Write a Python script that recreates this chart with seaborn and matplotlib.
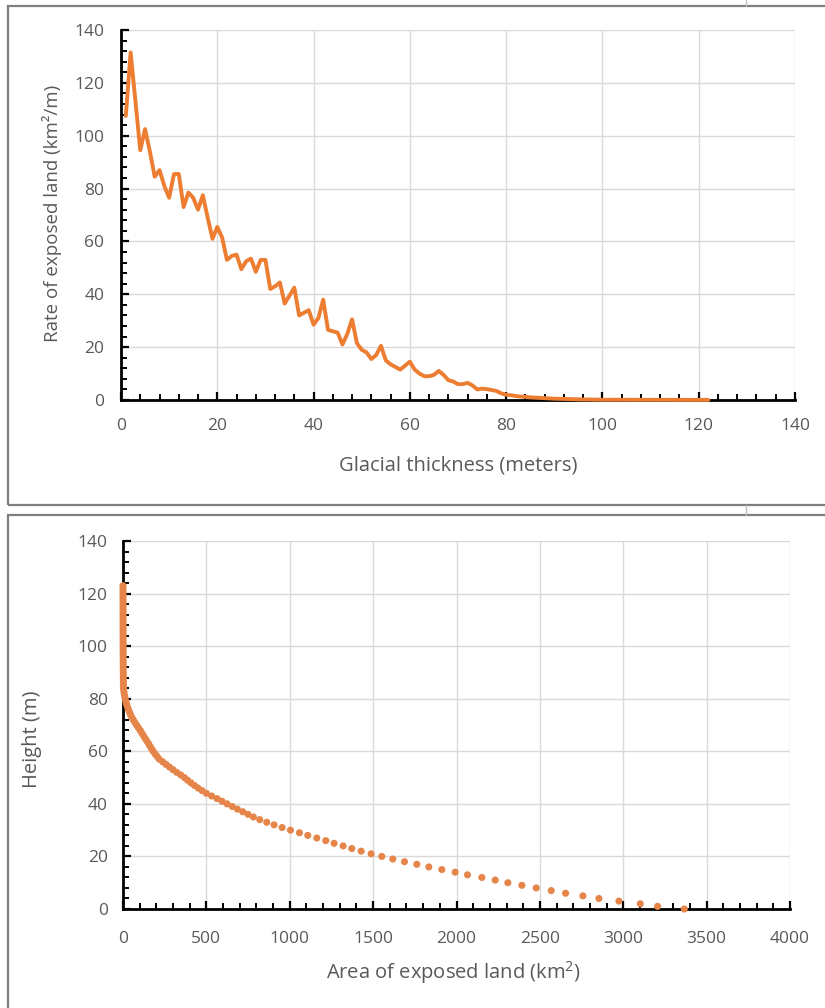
import numpy as np
import pandas as pd
import matplotlib
matplotlib.use("Agg")
import matplotlib.pyplot as plt
import seaborn as sns
from matplotlib.patches import Rectangle
from matplotlib.lines import Line2D
from matplotlib.ticker import MultipleLocator

# Glacial thickness (m) vs rate of exposed land (km2/m)
thickness = np.arange(1, 123)
rate = [
    107.5, 131.5, 113, 94.5, 102.5, 94, 84.5, 87, 81, 76.5,
    85.5, 85.5, 73, 78.5, 76.5, 72, 77.5, 69, 61, 65.5,
    61.5, 53, 54.5, 55, 49.5, 52.5, 53.5, 48.5, 53, 53,
    42, 43, 44.5, 36.5, 39.5, 42.5, 32, 33, 34, 28.5,
    31, 38, 26.5, 26, 25.5, 21, 25, 30.5, 21.5, 19,
    18, 15.5, 17, 20.5, 15, 13.5, 12.5, 11.5, 13, 14.5,
    11.5, 10, 9, 9, 9.5, 11, 9.5, 7.5, 7, 6,
    6, 6.5, 5.5, 4, 4.3, 4.1, 3.8, 3.4, 2.5, 2.0,
    1.8, 1.5, 1.3, 1.2, 1.0, 0.9, 0.8, 0.7, 0.6, 0.5,
    0.45, 0.4, 0.35, 0.3, 0.25, 0.2, 0.2, 0.15, 0.15, 0.1,
    0.1, 0.1, 0.1, 0.1, 0.1, 0.08, 0.08, 0.08, 0.08, 0.08,
    0.06, 0.06, 0.06, 0.06, 0.05, 0.05, 0.05, 0.05, 0.04, 0.04,
    0.04, 0.04,
]

# Height (m) vs area of exposed land (km2)
height = np.arange(0, 124)
area = [
    3366, 3206, 3102, 2974, 2854, 2758, 2654, 2568, 2478, 2392,
    2308, 2232, 2152, 2066, 1992, 1912, 1834, 1762, 1688, 1618,
    1552, 1488, 1428, 1372, 1320, 1266, 1216, 1162, 1108, 1058,
    1004, 954, 906, 862, 820, 782,
    750, 718, 686, 655, 624, 594, 564, 532, 500,
    475, 451, 428, 407, 387, 368,
    346, 322, 300, 279,
    258, 238, 217,
    205, 192, 181, 171, 161, 152,
    142, 132, 122, 112, 103,
    92, 81, 71, 61, 52,
    45, 38, 32, 26, 21,
    17, 13, 10, 7, 5, 3,
    2.5, 2.3, 2.1, 1.9, 1.7, 1.5, 1.4, 1.3, 1.2, 1.1,
    1.0, 0.9, 0.8, 0.8, 0.7, 0.7, 0.6, 0.6, 0.5, 0.5,
    0.5, 0.4, 0.4, 0.4, 0.3, 0.3, 0.3, 0.3, 0.2, 0.2,
    0.2, 0.2, 0.2, 0.1, 0.1, 0.1, 0.1, 0.1, 0.1,
]

top_df = pd.DataFrame({"thickness": thickness, "rate": rate})
bot_df = pd.DataFrame({"area": area, "height": height})

sns.set_style("white")
plt.rcParams["font.family"] = ["Open Sans", "DejaVu Sans"]

ORANGE = "#ED7D31"
DOTS = "#E5854A"
GRAY_TXT = "#595959"
GRID = "#D9D9D9"

fig = plt.figure(figsize=(8.25, 10.08), dpi=100)

# panel frames (cut off at the right edge, like the screenshot)
for (y0, y1) in [(1 - 505 / 1008, 1 - 6 / 1008), (-0.05, 1 - 515 / 1008)]:
    fig.patches.append(Rectangle((8 / 825, y0), 1.1, y1 - y0, transform=fig.transFigure,
                                 fill=False, edgecolor="#7F7F7F", linewidth=1.6))
# faint sheet gridline marks between panels
for (ya, yb) in [(1.0, 1 - 6 / 1008), (1 - 505 / 1008, 1 - 515 / 1008)]:
    fig.lines.append(Line2D([746 / 825, 746 / 825], [ya, yb], transform=fig.transFigure,
                            color="#BFBFBF", linewidth=1.0))


def style_axes(ax, xmaj, xmin, pad_x, pad_y):
    ax.grid(True, color=GRID, linewidth=1.0)
    ax.set_axisbelow(True)
    for s in ["top", "right"]:
        ax.spines[s].set_visible(False)
    for s in ["left", "bottom"]:
        ax.spines[s].set_color("black")
        ax.spines[s].set_linewidth(2.0)
    ax.xaxis.set_major_locator(MultipleLocator(xmaj))
    ax.xaxis.set_minor_locator(MultipleLocator(xmin))
    ax.yaxis.set_major_locator(MultipleLocator(20))
    ax.yaxis.set_minor_locator(MultipleLocator(4))
    ax.tick_params(which="both", bottom=True, left=True, top=False, right=False)
    ax.tick_params(which="major", direction="in", length=6, width=1.6, color="black",
                   labelsize=12.5, labelcolor=GRAY_TXT)
    ax.tick_params(which="minor", direction="in", length=4, width=1.4, color="black")
    ax.tick_params(axis="x", which="major", pad=pad_x)
    ax.tick_params(axis="y", which="major", pad=pad_y)


# top: rate of exposed land
ax1 = fig.add_axes([121 / 825, 1 - 400 / 1008, 674 / 825, 370 / 1008])
sns.lineplot(data=top_df, x="thickness", y="rate", ax=ax1, color=ORANGE,
             linewidth=2.8, zorder=4, clip_on=False)
ax1.set_xlim(0, 140)
ax1.set_ylim(0, 140)
style_axes(ax1, 20, 4, 13, 12)
ax1.set_xlabel("Glacial thickness (meters)", fontsize=14.5, color=GRAY_TXT)
ax1.set_ylabel("Rate of exposed land (km²/m)", fontsize=13.5, color=GRAY_TXT)
ax1.xaxis.set_label_coords(0.501, -0.150)
ax1.yaxis.set_label_coords(-0.088, 0.505)

# bottom: area of exposed land vs height
ax2 = fig.add_axes([123 / 825, 1 - 909 / 1008, 667 / 825, 368 / 1008])
sns.scatterplot(data=bot_df, x="area", y="height", ax=ax2, color=DOTS,
                s=26, edgecolor="none", zorder=4, clip_on=False)
ax2.set_xlim(0, 4000)
ax2.set_ylim(0, 140)
style_axes(ax2, 500, 100, 16, 11)
ax2.set_xlabel(r"Area of exposed land (km$^{\mathregular{2}}$)", fontsize=14.5, color=GRAY_TXT)
ax2.set_ylabel("Height (m)", fontsize=14.5, color=GRAY_TXT)
ax2.xaxis.set_label_coords(0.495, -0.135)
ax2.yaxis.set_label_coords(-0.122, 0.46)

fig.savefig("out.png", dpi=100)
